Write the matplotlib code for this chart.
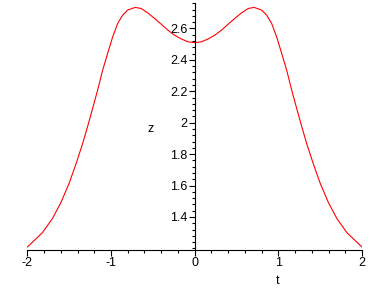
import matplotlib
matplotlib.use("Agg")
import matplotlib.pyplot as plt
from matplotlib.ticker import MultipleLocator

plt.rcParams['font.family'] = ['Liberation Sans', 'DejaVu Sans']

# values (curve is symmetric about t = 0)
t = [-2.0, -1.94, -1.82, -1.70, -1.60, -1.50, -1.42, -1.34, -1.28, -1.22,
     -1.16, -1.10, -1.04, -0.98, -0.92, -0.86, -0.80, -0.71, -0.64, -0.56,
     -0.48, -0.40, -0.32, -0.24, -0.16, -0.08, 0.0,
     0.08, 0.16, 0.24, 0.32, 0.40, 0.48, 0.56, 0.64, 0.71, 0.80,
     0.86, 0.92, 0.98, 1.04, 1.10, 1.16, 1.22, 1.28, 1.34, 1.42,
     1.50, 1.60, 1.70, 1.82, 1.94, 2.0]
z = [1.209, 1.239, 1.300, 1.390, 1.490, 1.615, 1.735, 1.865, 1.975, 2.090,
     2.207, 2.334, 2.441, 2.546, 2.632, 2.685, 2.717, 2.734, 2.727, 2.699,
     2.664, 2.627, 2.589, 2.557, 2.533, 2.515, 2.51,
     2.515, 2.533, 2.557, 2.589, 2.627, 2.664, 2.699, 2.727, 2.734, 2.717,
     2.685, 2.632, 2.546, 2.441, 2.334, 2.207, 2.090, 1.975, 1.865, 1.735,
     1.615, 1.490, 1.390, 1.300, 1.239, 1.209]

fig = plt.figure(figsize=(3.88, 2.88), dpi=100)
ax = fig.add_axes([0.0704, 0.132, 0.8626, 0.8565])
ax.plot(t, z, color='red', lw=0.8)

ax.set_xlim(-2, 2)
ax.set_ylim(1.19, 2.76)
ax.spines['top'].set_visible(False)
ax.spines['right'].set_visible(False)
ax.spines['left'].set_position(('data', 0))
for s in ('left', 'bottom'):
    ax.spines[s].set_linewidth(0.8)

ax.xaxis.set_minor_locator(MultipleLocator(0.2))
ax.yaxis.set_minor_locator(MultipleLocator(0.04))
ax.set_xticks([-2, -1, 0, 1, 2], ['-2', '-1', '0', '1', '2'])
ax.set_yticks([1.4, 1.6, 1.8, 2.0, 2.2, 2.4, 2.6], ['1.4', '1.6', '1.8', '2', '2.2', '2.4', '2.6'])
ax.tick_params(which='major', length=4, width=0.8, labelsize=9, pad=1)
ax.tick_params(which='minor', length=2.5, width=0.8)

fig.text(278 / 388, 1 - 281 / 288, 't', fontsize=9, ha='center', va='center')
fig.text(151 / 388, 1 - 129 / 288, 'z', fontsize=9, ha='center', va='center')

fig.savefig('out.png', dpi=100)
